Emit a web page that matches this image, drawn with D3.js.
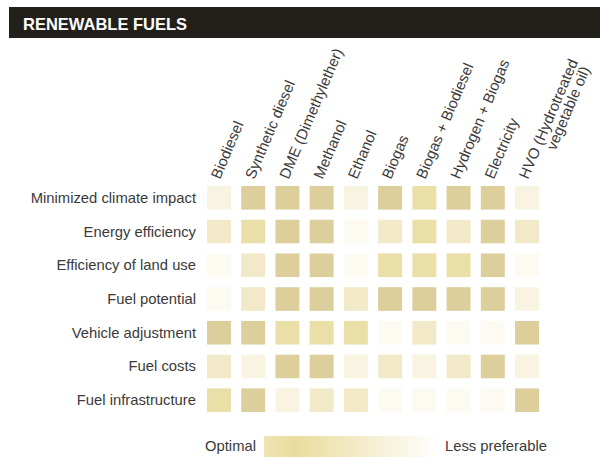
<!DOCTYPE html>
<html>
<head>
<meta charset="utf-8">
<script src="https://cdn.jsdelivr.net/npm/d3@7"></script>
<style>
  body { margin: 0; background: #fff; }
  svg { display: block; font-family: "Liberation Sans", Arial, sans-serif; }
</style>
</head>
<body>
<div id="chart-area"></div>
<script>
// DATA
const fuels = ["Biodiesel", "Synthetic diesel", "DME (Dimethylether)", "Methanol", "Ethanol",
  "Biogas", "Biogas + Biodiesel", "Hydrogen + Biogas", "Electricity", "HVO (Hydrotreated|vegetable oil)"]

const criteria = ["Minimized climate impact", "Energy efficiency", "Efficiency of land use",
  "Fuel potential", "Vehicle adjustment", "Fuel costs", "Fuel infrastructure"]

// rating per criterion, 1 = optimal ... 5 = less preferable (one value per fuel)
const climateImpact   = [4, 1, 1, 1, 4, 1, 2, 1, 1, 4]
const energyEff       = [3, 2, 1, 1, 5, 3, 2, 3, 1, 3]
const landUse         = [5, 3, 1, 1, 5, 2, 2, 2, 1, 5]
const fuelPotential   = [5, 3, 1, 1, 3, 1, 1, 1, 1, 4]
const vehicleAdjust   = [1, 1, 2, 2, 2, 5, 3, 5, 5, 1]
const fuelCosts       = [3, 4, 1, 1, 4, 3, 4, 3, 1, 4]
const infrastructure  = [2, 1, 4, 3, 3, 5, 5, 5, 5, 1]

const ratings = [climateImpact, energyEff, landUse, fuelPotential, vehicleAdjust, fuelCosts, infrastructure]

const levels = [1, 2, 3, 4, 5]
const legendLabels = ["Optimal", "Less preferable"]

// SVG
const W = 600, H = 457
const svg = d3.select("#chart-area").append("svg")
  .attr("width", W)
  .attr("height", H)

// title bar
svg.append("rect")
  .attr("x", 9).attr("y", 7)
  .attr("width", W - 9).attr("height", 31)
  .attr("fill", "#231f1b")

svg.append("text")
  .attr("x", 23).attr("y", 29.5)
  .attr("fill", "#fff")
  .attr("font-size", "16.5px")
  .attr("font-weight", "bold")
  .text("RENEWABLE FUELS")

// SCALES
const x = d3.scaleBand()
  .domain(fuels)
  .range([207, 539])
  .paddingInner(0.3)
  .paddingOuter(0)

const y = d3.scaleBand()
  .domain(criteria)
  .range([186, 412])
  .paddingInner(0.3)
  .paddingOuter(0)

const color = d3.scaleOrdinal()
  .domain(levels)
  .range(["#dccf9c", "#ebdfa8", "#f2e9c8", "#f9f3e1", "#fdfaf2"])

// CELLS
const cells = []
criteria.forEach((c, i) => {
  fuels.forEach((f, j) => cells.push({ criterion: c, fuel: f, value: ratings[i][j] }))
})

svg.append("g").selectAll("rect")
  .data(cells)
  .enter().append("rect")
  .attr("x", d => x(d.fuel))
  .attr("y", d => y(d.criterion))
  .attr("width", x.bandwidth())
  .attr("height", y.bandwidth())
  .attr("fill", d => color(d.value))

// row labels
svg.append("g").selectAll("text")
  .data(criteria)
  .enter().append("text")
  .attr("x", 196)
  .attr("y", d => y(d) + y.bandwidth() / 2 + 5)
  .attr("text-anchor", "end")
  .attr("font-size", "14.8px")
  .attr("fill", "#3a3a3a")
  .text(d => d)

// column labels (rotated)
const colLabels = svg.append("g").selectAll("g")
  .data(fuels)
  .enter().append("g")
  .attr("transform", d => `translate(${x(d) + x.bandwidth() / 2 + 1},180) rotate(-67)`)

colLabels.each(function(d) {
  const lines = d.split("|")
  const g = d3.select(this)
  const first = g.append("text")
    .attr("font-size", "15px")
    .attr("fill", "#3a3a3a")
    .text(lines[0])
  if (lines.length > 1) {
    const w1 = first.node().getComputedTextLength()
    const second = g.append("text")
      .attr("font-size", "15px")
      .attr("fill", "#3a3a3a")
      .attr("y", 14)
      .text(lines[1])
    const w2 = second.node().getComputedTextLength()
    second.attr("x", w1 - w2 - 2)
  }
})

// LEGEND
const grad = svg.append("defs").append("linearGradient")
  .attr("id", "legend-grad")
grad.append("stop").attr("offset", "0%").attr("stop-color", "#eee3b2")
grad.append("stop").attr("offset", "18%").attr("stop-color", "#eadc9f")
grad.append("stop").attr("offset", "100%").attr("stop-color", "#ffffff")

svg.append("rect")
  .attr("x", 264).attr("y", 436)
  .attr("width", 176).attr("height", 21)
  .attr("fill", "url(#legend-grad)")

svg.append("text")
  .attr("x", 256).attr("y", 451)
  .attr("text-anchor", "end")
  .attr("font-size", "14.8px")
  .attr("fill", "#3a3a3a")
  .text(legendLabels[0])

svg.append("text")
  .attr("x", 445).attr("y", 451)
  .attr("font-size", "14.8px")
  .attr("fill", "#3a3a3a")
  .text(legendLabels[1])
</script>
</body>
</html>
